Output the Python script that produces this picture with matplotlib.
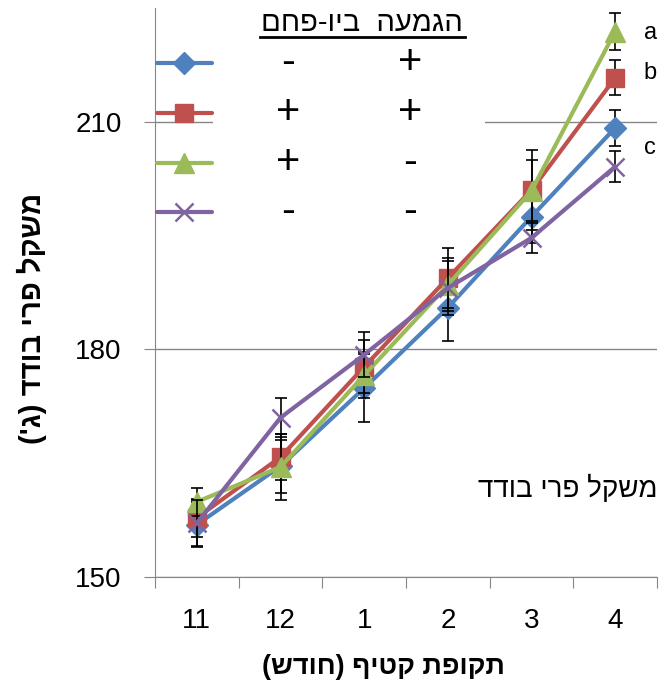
import numpy as np
import matplotlib
matplotlib.use('Agg')
from matplotlib import pyplot as plt
from matplotlib.lines import Line2D
from matplotlib.patches import Rectangle

plt.rcParams['font.family'] = ['Liberation Sans', 'DejaVu Sans']


def rtl(s):
    # matplotlib has no bidi support, so flip Hebrew by hand
    return s[::-1].translate(str.maketrans('()', ')('))


months = ['11', '12', '1', '2', '3', '4']
blue = [156.9, 164.6, 174.9, 185.5, 197.5, 209.2]
red = [157.8, 165.8, 177.7, 189.4, 201.0, 215.8]
green = [159.9, 164.5, 176.6, 188.5, 200.9, 221.9]
purple = [157.1, 171.0, 179.3, 188.1, 194.7, 204.1]
blue_err = [3.0, 3.5, 4.5, 4.4, 3.5, 2.4]
red_err = [2.5, 3.0, 3.5, 4.0, 5.3, 2.3]
green_err = [1.8, 4.4, 3.0, 3.5, 4.0, 2.5]
purple_err = [3.0, 2.6, 3.0, 3.5, 2.0, 2.1]
col_left = ['-', '+', '+', '-']
col_right = ['+', '+', '-', '-']
letters = ['a', 'b', 'c']
letter_y = [221.7, 216.4, 206.6]

colors = ['#4F81BD', '#C0504D', '#9BBB59', '#8064A2']
markers = ['D', 's', '^', 'x']
msizes = [11, 13, 14, 13]
values = [blue, red, green, purple]
errors = [blue_err, red_err, green_err, purple_err]

W, H = 667, 689
fig = plt.figure(figsize=(W / 100, H / 100), dpi=100)
ax = fig.add_axes([155 / W, 1 - 577 / H, 502 / W, 569 / H])

x = np.arange(len(months))
for v, e, c, m, ms in zip(values, errors, colors, markers, msizes):
    ax.errorbar(x, v, yerr=e, fmt='none', ecolor='black', elinewidth=1.2,
                capsize=4.3, capthick=1.2, zorder=3)
    ax.plot(x, v, color=c, lw=3, marker=m, ms=ms, mec=c, mfc=c,
            mew=1.8 if m == 'x' else 1, zorder=3)

ax.set_xlim(-0.5, len(months) - 0.5)
ax.set_ylim(150, 225)
ax.set_yticks([150, 180, 210])
ax.yaxis.grid(True, color='#868686', lw=1)
ax.set_axisbelow(True)
ax.set_xticks(np.arange(len(months) + 1) - 0.5)
ax.set_xticklabels([])
ax.set_xticks(x, minor=True)
ax.set_xticklabels(months, minor=True, fontsize=20)
ax.tick_params(axis='x', which='minor', length=0, pad=22.5)
ax.tick_params(axis='x', which='major', length=8, color='#868686', direction='out')
ax.tick_params(axis='y', length=8, color='#868686', pad=16, labelsize=20)
for side in ['top', 'right']:
    ax.spines[side].set_visible(False)
for side in ['left', 'bottom']:
    ax.spines[side].set_color('#868686')

for t, yv in zip(letters, letter_y):
    ax.text(5.42, yv, t, fontsize=17, ha='center', va='center')

ax.text(0.822, 0.155, rtl('משקל פרי בודד'), transform=ax.transAxes,
        fontsize=20, ha='center', va='center')

fig.text(383 / W, 1 - 667 / H, rtl('תקופת קטיף (חודש)'), fontsize=19.5,
         fontweight='bold', ha='center', va='center')
fig.text(32 / W, 1 - 318 / H, rtl("משקל פרי בודד (ג')"), fontsize=21,
         fontweight='bold', ha='center', va='center', rotation=90)

# legend box
fig.patches.append(Rectangle((213 / W, 1 - 232 / H), 272 / W, 232 / H,
                             transform=fig.transFigure, facecolor='white',
                             edgecolor='none', zorder=4))
fig.text(362 / W, 1 - 23 / H, rtl('הגמעה  ביו-פחם'), fontsize=21,
         ha='center', va='center', zorder=5)
fig.lines.append(Line2D([260 / W, 465 / W], [1 - 37 / H, 1 - 37 / H],
                        transform=fig.transFigure, color='black', lw=2,
                        zorder=5))
rows = [63, 113, 163, 212]
for py, c, m, ms, a, b in zip(rows, colors, markers, msizes, col_left, col_right):
    fy = 1 - py / H
    fig.lines.append(Line2D([157 / W, 212 / W], [fy, fy], transform=fig.transFigure,
                            color=c, lw=3, solid_capstyle='round', zorder=5))
    fig.lines.append(Line2D([184 / W], [fy], transform=fig.transFigure, color=c,
                            marker=m, ms=ms, mfc=c, mec=c,
                            mew=1.8 if m == 'x' else 1, zorder=5))
    fig.text(288 / W, fy, a, fontsize=30, ha='center', va='center', zorder=5)
    fig.text(410 / W, fy, b, fontsize=30, ha='center', va='center', zorder=5)

fig.savefig('out.png', dpi=100)
